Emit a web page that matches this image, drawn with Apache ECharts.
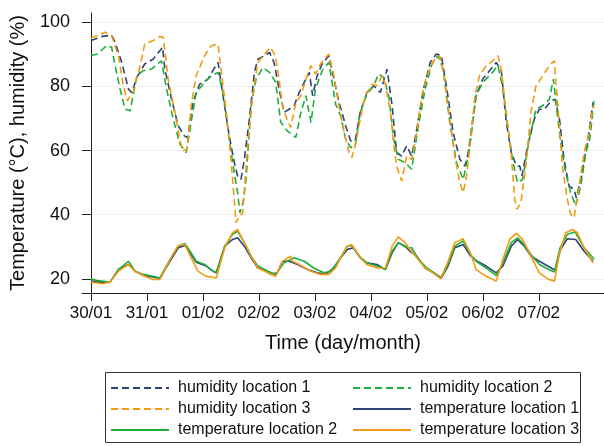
<!DOCTYPE html>
<html>
<head>
<meta charset="utf-8">
<script src="https://cdn.jsdelivr.net/npm/echarts@6.0.0/dist/echarts.min.js"></script>
<style>
html,body{margin:0;padding:0;background:#fff;}
#chart{width:604px;height:446px;}
</style>
</head>
<body>
<div id="chart"></div>
<script>
// x = days since 30/01 00:00
const tickDays = [0,1,2,3,4,5,6,7,8];
const tickLabels = ['30/01','31/01','01/02','02/02','03/02','04/02','05/02','06/02','07/02'];
const yTicks = [20,40,60,80,100];

const humidity1 = [[0,94.3],[0.2,95.6],[0.37,96],[0.43,93.8],[0.55,87.5],[0.67,79.2],[0.73,78],[0.82,82.8],[0.96,87],[1.11,88.5],[1.28,92.2],[1.32,85.4],[1.44,76],[1.56,67.7],[1.67,64.6],[1.73,64],[1.82,75],[1.94,80.7],[2.09,82.3],[2.18,85],[2.27,87.5],[2.36,77.1],[2.47,64.6],[2.56,56.3],[2.62,52.1],[2.68,51],[2.74,57.3],[2.83,69.8],[2.92,84.4],[2.98,88.5],[3.1,89.6],[3.19,90.6],[3.27,87.5],[3.36,79.2],[3.45,71.9],[3.54,72.9],[3.63,74],[3.72,78.1],[3.81,81.3],[3.9,84.4],[3.96,77.1],[4.04,83.3],[4.13,87],[4.25,89.6],[4.34,82.3],[4.43,75],[4.46,73.4],[4.55,67.7],[4.64,63],[4.72,63],[4.81,71.9],[4.93,78.1],[5.05,80.2],[5.17,78.1],[5.29,85.4],[5.38,74],[5.46,59.4],[5.55,58.3],[5.64,61.5],[5.73,58.3],[5.82,66.7],[5.94,79.2],[6.06,87.5],[6.17,90.1],[6.26,89.6],[6.35,80.2],[6.47,65.6],[6.59,57.3],[6.68,55.2],[6.74,59.4],[6.78,64.5],[6.88,77.1],[7.0,82.3],[7.12,84.9],[7.24,87.5],[7.33,84.9],[7.42,68.8],[7.51,59.4],[7.6,55.2],[7.66,55.2],[7.7,52.1],[7.8,61.5],[7.92,69.8],[8.01,72.9],[8.1,72.9],[8.22,75.5],[8.29,76],[8.37,69.8],[8.45,57.3],[8.54,49],[8.63,47.9],[8.67,45.3],[8.75,51],[8.87,62.5],[8.97,75]];

const humidity2 = [[0,89.6],[0.11,90.1],[0.28,92.7],[0.37,92.2],[0.43,86.5],[0.52,79.2],[0.61,72.9],[0.7,72.4],[0.82,83.3],[0.93,84.9],[1.08,85.4],[1.26,88],[1.35,79.2],[1.47,69.8],[1.59,62],[1.7,59.4],[1.79,68.8],[1.88,78.1],[2.03,81.3],[2.15,83.3],[2.27,84.4],[2.36,78.1],[2.47,63.5],[2.56,53.1],[2.62,46.9],[2.66,40.6],[2.72,44],[2.77,51],[2.86,74],[2.95,82.3],[3.07,85.9],[3.19,84.4],[3.3,81.3],[3.39,68.8],[3.51,66.1],[3.66,64.1],[3.75,71.9],[3.84,77.1],[3.93,68.8],[4.01,79.2],[4.13,84.9],[4.25,87.5],[4.37,74.5],[4.46,70.8],[4.55,63.5],[4.64,60.9],[4.72,61.5],[4.81,71.9],[4.93,77.6],[5.05,80.2],[5.14,83.9],[5.23,82.8],[5.32,77.1],[5.41,63.5],[5.49,57.3],[5.61,56.3],[5.73,54.2],[5.85,67.7],[5.97,79.2],[6.09,87],[6.2,89.6],[6.29,85.4],[6.41,68.8],[6.53,56.3],[6.65,51],[6.74,58.3],[6.78,63],[6.88,77.1],[7.0,81.3],[7.15,83.9],[7.27,86.5],[7.36,79.2],[7.45,66.7],[7.54,56.3],[7.62,50],[7.71,51],[7.83,63.5],[7.95,72.9],[8.07,74],[8.19,76],[8.26,82.3],[8.32,72.9],[8.4,61.5],[8.48,53.1],[8.57,46.9],[8.66,42.7],[8.75,49],[8.84,59.4],[8.91,63.5],[8.99,76]];

const humidity3 = [[0,95],[0.25,96.9],[0.37,95.8],[0.49,89.6],[0.58,80.2],[0.65,75.5],[0.76,78.6],[0.88,86.5],[0.96,93.2],[1.11,94.3],[1.23,95.6],[1.29,95.3],[1.38,82.3],[1.5,71.9],[1.59,63],[1.64,59.9],[1.72,60.4],[1.79,74],[1.88,83.4],[2.03,89.6],[2.15,92.7],[2.27,93.2],[2.33,84.4],[2.42,71.9],[2.5,57.3],[2.56,44.8],[2.59,37.5],[2.65,39.6],[2.71,40.6],[2.8,61.5],[2.89,77.1],[2.98,87.5],[3.1,90.1],[3.21,92.2],[3.3,89.1],[3.36,82.3],[3.42,74],[3.5,69.8],[3.57,67.2],[3.66,75],[3.75,77.1],[3.84,82.3],[3.93,86.5],[4.01,83.9],[4.1,87],[4.25,90.1],[4.34,83.3],[4.43,74],[4.52,66],[4.61,59.4],[4.66,57.8],[4.72,61.5],[4.81,69.8],[4.9,77.1],[5.02,80.7],[5.11,80.2],[5.2,83.3],[5.26,80.7],[5.35,71.9],[5.41,61.5],[5.46,55.2],[5.55,50.5],[5.64,58.3],[5.73,57.3],[5.82,65.6],[5.91,77.1],[6.0,83.3],[6.12,88],[6.23,89.6],[6.32,82.3],[6.41,69.8],[6.5,58.3],[6.59,50],[6.65,46.9],[6.71,52.1],[6.77,61.5],[6.86,77.1],[6.94,83.3],[7.06,86.5],[7.18,88],[7.27,89.6],[7.33,85.4],[7.39,76],[7.45,67.7],[7.51,58.3],[7.57,44.8],[7.61,41.7],[7.68,43.8],[7.77,55.2],[7.86,71.9],[7.95,80.2],[8.07,83.3],[8.19,86.5],[8.28,88],[8.31,80.2],[8.37,67.7],[8.42,55.2],[8.51,44.8],[8.57,40.1],[8.63,39.1],[8.72,49],[8.81,59.4],[8.9,65.6],[8.97,74]];

const temperature1 = [[0,19.3],[0.2,19],[0.34,19],[0.49,22.9],[0.67,24.5],[0.79,22.4],[0.96,21],[1.11,20.6],[1.23,20.1],[1.41,25.5],[1.56,29.7],[1.68,30.4],[1.79,27.6],[1.88,25.2],[2.06,24],[2.18,22.4],[2.24,21.9],[2.39,30.2],[2.53,32.3],[2.62,32.8],[2.74,30.2],[2.86,26.6],[2.98,23.4],[3.1,22.9],[3.21,21.4],[3.33,21.9],[3.42,25.5],[3.54,25.5],[3.69,24.5],[3.87,22.9],[4.04,21.9],[4.19,21.4],[4.34,23.4],[4.46,26.6],[4.58,29.2],[4.69,29.7],[4.81,26.6],[4.93,25],[5.11,24.5],[5.26,22.9],[5.38,28.1],[5.49,31.3],[5.61,30.2],[5.7,28.6],[5.82,27.1],[5.97,23.4],[6.12,21.9],[6.26,20.3],[6.38,24],[6.5,29.7],[6.65,30.7],[6.78,27.2],[6.9,25.5],[7.06,24],[7.24,21.9],[7.36,24],[7.51,30.2],[7.62,32.3],[7.74,30.2],[7.86,27.1],[8.01,25.5],[8.16,24],[8.29,22.7],[8.39,29.2],[8.51,32.5],[8.66,32.3],[8.81,28.6],[8.97,25.5]];

const temperature2 = [[0,20],[0.11,19.5],[0.34,19],[0.49,22.9],[0.67,25.5],[0.79,22.4],[0.93,21.4],[1.11,20.8],[1.23,20.3],[1.41,26],[1.56,30.2],[1.68,31],[1.79,28.1],[1.88,25.5],[2.03,24.5],[2.18,22.4],[2.24,22.1],[2.39,30.2],[2.53,33.9],[2.62,34.9],[2.74,31.3],[2.86,27.1],[2.98,24],[3.16,22.4],[3.3,21.4],[3.45,25],[3.63,26.6],[3.81,25.5],[3.98,23.4],[4.16,21.9],[4.28,22.4],[4.4,25],[4.49,27.6],[4.58,30.2],[4.66,30.4],[4.81,26.6],[4.93,25],[5.11,24],[5.26,22.9],[5.38,28.6],[5.49,31.3],[5.64,29.7],[5.73,29.7],[5.85,26.1],[6.0,23.4],[6.14,21.7],[6.25,20.3],[6.38,24.5],[6.5,30.2],[6.65,31.8],[6.78,27.6],[6.88,25.5],[7.06,23.4],[7.24,21],[7.36,25],[7.51,31.3],[7.62,32.8],[7.74,30.7],[7.86,27.6],[8.01,24.5],[8.16,23.1],[8.28,22.1],[8.38,29.7],[8.51,33.9],[8.65,34.6],[8.81,29.7],[8.99,26.1]];

const temperature3 = [[0,19],[0.2,18.5],[0.34,19],[0.49,22.4],[0.67,24.5],[0.79,22.4],[0.96,20.8],[1.11,19.8],[1.23,19.8],[1.41,26],[1.56,30.4],[1.68,30.7],[1.79,26.6],[1.91,22.4],[2.06,20.8],[2.24,20.3],[2.39,29.7],[2.53,34.4],[2.62,35.4],[2.74,31.3],[2.86,27.1],[2.98,23.4],[3.16,21.9],[3.3,20.8],[3.42,25.5],[3.57,27.1],[3.6,25.5],[3.72,24.5],[3.93,22.4],[4.1,21.4],[4.25,21.4],[4.37,23.4],[4.46,26.6],[4.58,30.2],[4.66,30.7],[4.81,26.6],[4.93,24.5],[5.11,23.4],[5.26,23.4],[5.38,30.2],[5.49,33.1],[5.61,31.3],[5.7,29.2],[5.82,26.6],[5.97,23.4],[6.12,21.7],[6.25,20],[6.38,25.5],[6.5,31.3],[6.65,32.5],[6.78,28],[6.88,22.9],[7.06,20.8],[7.24,19.3],[7.36,26.1],[7.48,32.3],[7.6,34.2],[7.71,32.3],[7.86,27.1],[8.01,21.9],[8.16,20],[8.28,19.3],[8.37,28.1],[8.48,34.4],[8.6,35.4],[8.69,34.4],[8.81,29.7],[8.97,25]];

const names = ['humidity location 1','humidity location 2','humidity location 3',
               'temperature location 1','temperature location 2','temperature location 3'];
const colors = ['#2e4476','#1fae3c','#f29a12','#2e4476','#1fae3c','#f29a12'];
const datasets = [humidity1, humidity2, humidity3, temperature1, temperature2, temperature3];

const FONT = '"Liberation Sans", Arial, sans-serif';
const chart = echarts.init(document.getElementById('chart'), null, {renderer: 'canvas'});

const series = datasets.map((d, i) => ({
  name: names[i],
  type: 'line',
  data: d,
  symbol: 'none',
  showSymbol: false,
  smooth: false,
  animation: false,
  color: colors[i],
  lineStyle: { color: colors[i], width: 1.6, type: i < 3 ? [7, 4] : 'solid' },
  z: 2 + i
}));

const legendCommon = {
  orient: 'vertical',
  top: 380,
  itemWidth: 58,
  itemHeight: 14,
  itemGap: 5,
  padding: 0,
  itemStyle: { opacity: 0, borderWidth: 0 },
  textStyle: { fontSize: 16, color: '#111', fontFamily: FONT, padding: [0, 0, 0, 4] }
};

chart.setOption({
  animation: false,
  backgroundColor: '#fff',
  grid: { left: 81, top: 13, right: -2, bottom: 153, containLabel: false },
  xAxis: {
    type: 'value',
    min: -0.16,
    max: 9.165,
    name: 'Time (day/month)',
    nameLocation: 'middle',
    nameGap: 40,
    nameTextStyle: { fontSize: 20, color: '#111', fontFamily: FONT },
    axisLine: { show: true, lineStyle: { color: '#222', width: 1 } },
    axisTick: { show: true, length: 8, customValues: tickDays, lineStyle: { color: '#222' } },
    axisLabel: {
      customValues: tickDays,
      fontSize: 17, color: '#111', fontFamily: FONT, margin: 12,
      formatter: v => tickLabels[tickDays.indexOf(Math.round(v))] || ''
    },
    splitLine: { show: false }
  },
  yAxis: {
    type: 'value',
    min: 15.6,
    max: 102.9,
    name: 'Temperature (°C), humidity (%)',
    nameLocation: 'middle',
    nameGap: 54,
    nameTextStyle: { fontSize: 20, color: '#111', fontFamily: FONT },
    axisLine: { show: true, lineStyle: { color: '#222', width: 1 } },
    axisTick: { show: true, length: 9, customValues: yTicks, lineStyle: { color: '#222' } },
    axisLabel: { customValues: yTicks, fontSize: 18, color: '#111', fontFamily: FONT, margin: 12 },
    splitLine: { show: true, lineStyle: { color: '#eef0f0', width: 1 } }
  },
  legend: [
    Object.assign({}, legendCommon, { left: 110, data: [names[0], names[2], names[4]] }),
    Object.assign({}, legendCommon, { left: 352, data: [names[1], names[3], names[5]] })
  ],
  graphic: [{
    type: 'rect',
    shape: { x: 105.5, y: 372.5, width: 475, height: 70 },
    style: { fill: 'none', stroke: '#333', lineWidth: 1 },
    silent: true
  }],
  series: series
});
</script>
</body>
</html>
